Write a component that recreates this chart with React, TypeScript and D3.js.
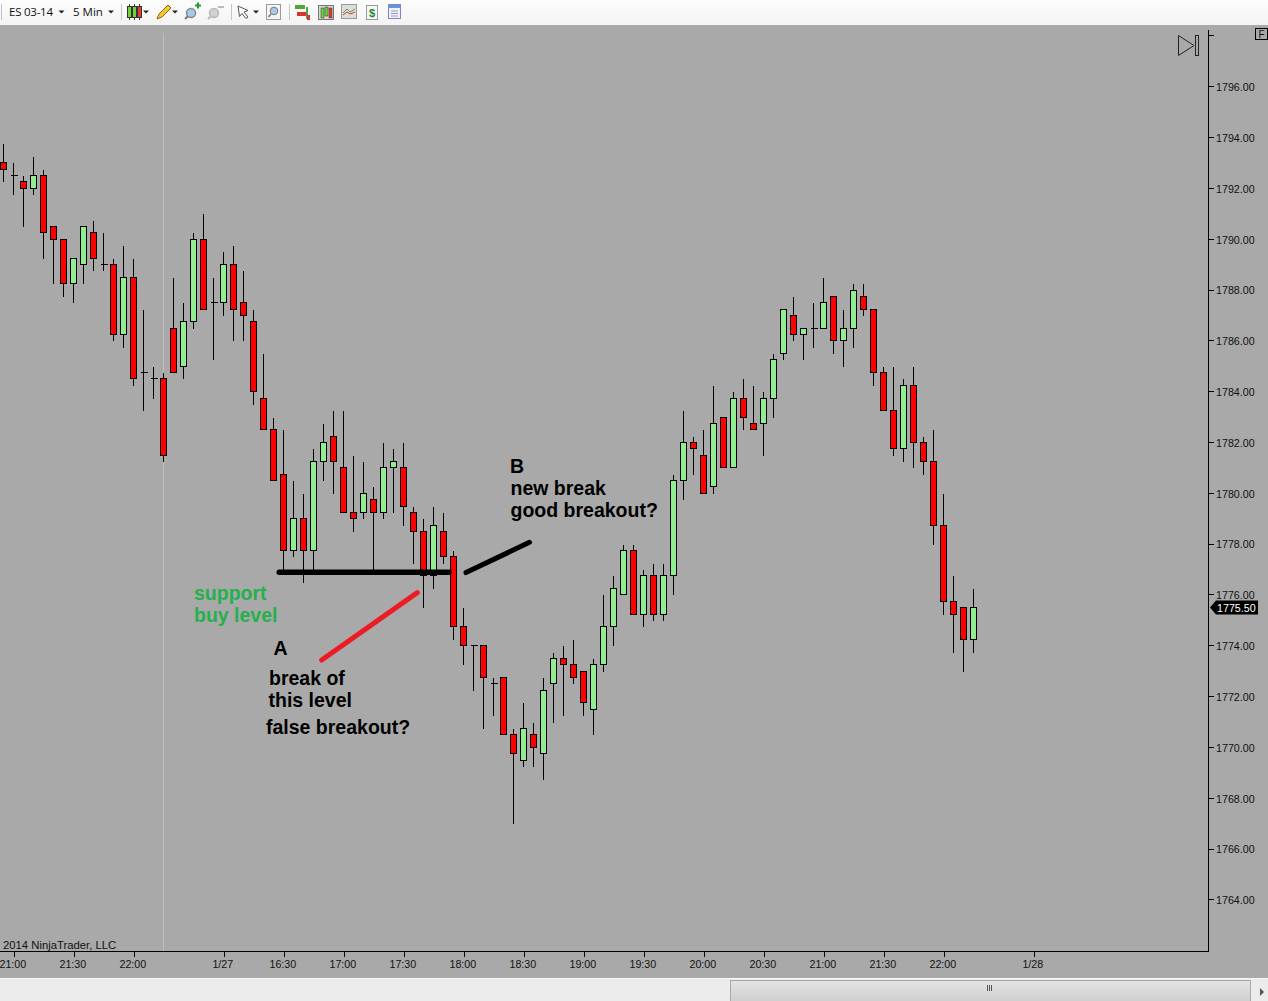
import { useEffect, useRef } from "react";
import * as d3 from "d3";

// ES 03-14, 5 min bars (tick size 0.25)
const opens = [
  1793, 1792.5, 1792.25, 1792, 1792.5, 1790.5, 1790, 1788.25, 1789, 1790.25,
  1789, 1789, 1786.25, 1788.5, 1784.75, 1784.5, 1784.5, 1786.5, 1785, 1786.75,
  1790, 1787.5, 1787.5, 1789, 1787.5, 1786.75, 1783.75, 1782.5, 1780.75, 1777.75,
  1779, 1777.75, 1781.25, 1782.25, 1781, 1779.25, 1779.25, 1779.75, 1779.25, 1781,
  1781, 1779.25, 1778.5, 1776.75, 1778.5, 1777.5, 1774.75, 1774, 1774, 1772.5,
  1772.75, 1770.5, 1769.5, 1770.5, 1769.75, 1772.5, 1773.5, 1773.25, 1773, 1771.5,
  1773.25, 1774.75, 1776, 1777.75, 1775.25, 1776.75, 1775.25, 1776.75, 1780.5, 1782,
  1781.5, 1780.25, 1783, 1781, 1783.75, 1782.75, 1782.75, 1783.75, 1785.5, 1787,
  1786.25, 1786.5, 1786.5, 1787.75, 1786, 1786.5, 1787.75, 1787.25, 1784.75, 1783.25,
  1781.75, 1784.25, 1782, 1781.25, 1778.75, 1775.75, 1775.5, 1774.25,
];
const highs = [
  1793.75, 1793, 1792.5, 1793.25, 1792.75, 1790.5, 1790, 1789.25, 1790.5, 1790.75,
  1790.25, 1789.25, 1789.75, 1789.25, 1787.25, 1785, 1784.75, 1788.5, 1787.5, 1790.25,
  1791, 1788.5, 1789.5, 1789.75, 1788.75, 1787.25, 1785.5, 1783, 1782.5, 1780.5,
  1780, 1781.75, 1782.75, 1783.25, 1783.25, 1781.5, 1781.25, 1780.25, 1782, 1781.75,
  1782, 1779.5, 1779, 1779.5, 1779.25, 1777.75, 1775.5, 1774, 1774, 1772.75,
  1772.75, 1770.75, 1771.75, 1771, 1772.75, 1773.75, 1774, 1774.25, 1773, 1773.5,
  1776, 1776.75, 1778, 1778, 1777, 1777.25, 1777.25, 1780.75, 1783.25, 1782.25,
  1782.5, 1784.25, 1783, 1784, 1784.5, 1784.25, 1784, 1785.5, 1787.25, 1787.75,
  1786.5, 1787.5, 1788.5, 1787.75, 1787.25, 1788.25, 1788.25, 1787.25, 1785, 1785,
  1784.5, 1785, 1782.25, 1782.5, 1780, 1776.75, 1775.5, 1776.25,
];
const lows = [
  1792.25, 1791.75, 1790.5, 1791.75, 1789.25, 1788.25, 1787.75, 1787.5, 1788.25, 1788.75,
  1788.75, 1786, 1785.75, 1784.25, 1783.25, 1783.75, 1781.25, 1784.75, 1784.5, 1786.5,
  1787.25, 1785.25, 1787, 1786, 1786, 1783.5, 1782.5, 1780.5, 1777, 1777.5,
  1776.5, 1777, 1780.5, 1780, 1779.25, 1778.5, 1779, 1777, 1779, 1779.25,
  1778.75, 1777.25, 1775.5, 1776.25, 1777.25, 1774.25, 1773.25, 1772.25, 1770.75, 1771.25,
  1770.5, 1767, 1769.25, 1769.25, 1768.75, 1771, 1771.25, 1772.5, 1771.25, 1770.5,
  1773, 1774, 1776, 1775.25, 1774.75, 1775, 1775, 1776, 1779.75, 1780.75,
  1780, 1780, 1781, 1781, 1782.5, 1782.5, 1781.5, 1783, 1785.25, 1786,
  1785.25, 1785.75, 1786.5, 1785.5, 1785, 1785.75, 1787, 1784.25, 1783.25, 1781.5,
  1781.25, 1781, 1780.75, 1778, 1775.25, 1773.75, 1773, 1773.75,
];
const closes = [
  1792.75, 1792.5, 1792, 1792.5, 1790.25, 1790, 1788.25, 1789.25, 1790.5, 1789.25,
  1789, 1786.25, 1788.5, 1784.5, 1784.75, 1784.5, 1781.5, 1784.75, 1786.75, 1790,
  1787.25, 1787.5, 1789, 1787.25, 1787, 1784, 1782.5, 1780.5, 1777.75, 1779,
  1777.75, 1781.25, 1782, 1781.25, 1779.25, 1779, 1780, 1779.25, 1781, 1781.25,
  1779.5, 1778.5, 1776.75, 1778.75, 1777.5, 1774.75, 1774, 1774, 1772.75, 1772.5,
  1770.5, 1769.75, 1770.75, 1770, 1772.25, 1773.5, 1773.25, 1772.75, 1771.75, 1773.25,
  1774.75, 1776.25, 1777.75, 1775.25, 1776.75, 1775.25, 1776.75, 1780.5, 1782, 1781.75,
  1780, 1782.75, 1781, 1783.75, 1783, 1782.5, 1783.75, 1785.25, 1787.25, 1786.25,
  1786.5, 1786.5, 1787.5, 1786, 1786.5, 1788, 1787.25, 1784.75, 1783.25, 1781.75,
  1784.25, 1782, 1781.25, 1778.75, 1775.75, 1775.25, 1774.25, 1775.5,
];

// bar index of each time label
const timeTickBars = [1, 7, 13, 22, 28, 34, 40, 46, 52, 58, 64, 70, 76, 82, 88, 94, 103];
const timeTickLabels = [
  "21:00", "21:30", "22:00", "1/27", "16:30", "17:00", "17:30", "18:00", "18:30",
  "19:00", "19:30", "20:00", "20:30", "21:00", "21:30", "22:00", "1/28",
];
const priceTicks = d3.range(1764, 1800, 2);
const lastPrice = 1775.5;
const sessionBreakBar = 16;

// hand drawn lines on the chart: [bar, price] pairs
const supportLine: [number, number][] = [[27.57, 1776.89], [44.55, 1776.89]];
const breakLineB: [number, number][] = [[46.25, 1776.88], [52.6, 1778.07]];
const breakLineA: [number, number][] = [[31.82, 1773.44], [41.38, 1776.09]];

const notes = [
  { text: "support", x: 194, y: 600, color: "#22B14C" },
  { text: "buy level", x: 194, y: 622, color: "#22B14C" },
  { text: "A", x: 273.5, y: 655, color: "#000" },
  { text: "break of", x: 269, y: 685, color: "#000" },
  { text: "this level", x: 268.5, y: 707, color: "#000" },
  { text: "false breakout?", x: 266, y: 734, color: "#000" },
  { text: "B", x: 510, y: 473, color: "#000" },
  { text: "new break", x: 510.5, y: 495, color: "#000" },
  { text: "good breakout?", x: 510.5, y: 517, color: "#000" },
];

const W = 1268;
const H = 1001;
const FONT = "'Liberation Sans', Arial, sans-serif";
const UP = "#90EE90";
const DOWN = "#FF0000";

function Arrow({ x }: { x: number }) {
  return <path d={`M${x},10.5 h6 l-3,3 z`} fill="#222" />;
}

function Toolbar() {
  return (
    <g>
      <defs>
        <linearGradient id="tb" x1="0" x2="0" y1="0" y2="1">
          <stop offset="0" stopColor="#fdfdfd" />
          <stop offset="1" stopColor="#f3f3f3" />
        </linearGradient>
        <linearGradient id="thumb" x1="0" x2="0" y1="0" y2="1">
          <stop offset="0" stopColor="#e4e4e4" />
          <stop offset="1" stopColor="#cfcfcf" />
        </linearGradient>
      </defs>
      <rect x={0} y={0} width={W} height={25} fill="url(#tb)" />
      {[1, 121, 231, 289].map((x) => (
        <line key={x} x1={x + 0.5} x2={x + 0.5} y1={4} y2={20} stroke="#c4c4c4" />
      ))}
      <g fontFamily="'Open Sans', sans-serif" fontSize={11.5} fill="#111">
        <text x={9} y={16} textLength={44}>ES 03-14</text>
        <text x={73} y={16}>5 Min</text>
      </g>
      <Arrow x={58.5} />
      <Arrow x={108} />
      {/* candles */}
      <g stroke="#333">
        <path d="M129.5,4 V20 M134.5,4 V20 M139.5,4 V20" />
        <rect x={127.5} y={6.5} width={4} height={11} fill="#6fd43c" />
        <rect x={132.5} y={6.5} width={4} height={11} fill="#6fd43c" />
        <rect x={137.5} y={6.5} width={4} height={11} fill="#e8392c" />
      </g>
      <Arrow x={143} />
      {/* pencil */}
      <path d="M157,19 l2,-5 l9,-9 l3,3 l-9,9 z" fill="#f5c92e" stroke="#8a6a10" />
      <Arrow x={172} />
      {/* zoom in / out */}
      <circle cx={191} cy={13} r={4.5} fill="#a8c8ee" stroke="#8a8a8a" strokeWidth={1.5} />
      <line x1={187.5} y1={16.5} x2={185} y2={19} stroke="#777" strokeWidth={2} />
      <path d="M195,5.5 h6 M198,2.5 v6" stroke="#18a030" strokeWidth={2} />
      <circle cx={214} cy={13} r={4.5} fill="#d2d2d2" stroke="#b8b8b8" strokeWidth={1.5} />
      <line x1={210.5} y1={16.5} x2={208} y2={19} stroke="#bbb" strokeWidth={2} />
      <path d="M218,7 h6" stroke="#bbb" strokeWidth={2} />
      {/* cursor */}
      <path d="M238,6 l10,4.5 l-4,1.5 l4,5 l-2,1.5 l-4,-5 l-2.5,3 z" fill="#fff" stroke="#555" />
      <Arrow x={253} />
      <rect x={266.5} y={4.5} width={14} height={15} fill="#f4f4f4" stroke="#999" />
      <circle cx={274} cy={11} r={3.8} fill="#a8c8ee" stroke="#7a7a7a" />
      <line x1={271} y1={14} x2={268.5} y2={17} stroke="#777" strokeWidth={1.5} />
      {/* chart buttons */}
      <rect x={295} y={5} width={10} height={4} fill="#4fa83c" />
      <rect x={297} y={12} width={10} height={4} fill="#d8352c" />
      <rect x={306} y={7} width={2} height={12} fill="#5aa04a" />
      <rect x={307} y={15} width={3} height={5} fill="#d8352c" />
      <rect x={318.5} y={5.5} width={15} height={14} fill="#d8d8d8" stroke="#777" />
      <rect x={321} y={8} width={3} height={10} fill="#6fd43c" stroke="#333" strokeWidth={0.5} />
      <rect x={325} y={7} width={3} height={9} fill="#6fd43c" stroke="#333" strokeWidth={0.5} />
      <rect x={329} y={8} width={3} height={10} fill="#e8392c" stroke="#333" strokeWidth={0.5} />
      <rect x={341.5} y={4.5} width={15} height={14} fill="#dcdcdc" stroke="#999" />
      <path d="M343,13 l4,-4 l3,3 l5,-3" fill="none" stroke="#4fa83c" />
      <path d="M343,15 l4,-3 l3,2 l5,-2" fill="none" stroke="#d8352c" />
      <rect x={366.5} y={5.5} width={11} height={14} fill="#f6f6f6" stroke="#999" />
      <text x={372} y={17} textAnchor="middle" fontFamily={FONT} fontWeight={700} fontSize={11} fill="#1c8a30">$</text>
      <rect x={388.5} y={4.5} width={12} height={14} fill="#eef0fa" stroke="#8a80c8" />
      <rect x={389} y={5} width={11} height={3} fill="#5a9ad8" />
      <path d="M391,11 h7 M391,13.5 h7 M391,16 h7" stroke="#9a9ac0" />
    </g>
  );
}

function ScrollBar() {
  return (
    <g>
      <rect x={0} y={978} width={W} height={1} fill="#f8f8f8" />
      <rect x={0} y={979} width={W} height={22} fill="#ececec" />
      <rect x={730.5} y={980.5} width={520} height={21} fill="url(#thumb)" stroke="#a8a8a8" />
      <path d="M987.5,985 v6 M989.5,985 v6 M991.5,985 v6" stroke="#555" />
      <path d="M1260,988 l4,4 l-4,4 z" fill="#555" />
    </g>
  );
}

export default function App() {
  const svgRef = useRef<SVGSVGElement | null>(null);

  useEffect(() => {
    if (!svgRef.current) return;
    const svg = d3.select(svgRef.current).select<SVGGElement>("g.chart");
    svg.selectAll("*").remove();

    const plotRight = 1208;
    const plotBottom = 951;

    const x = d3.scaleLinear().domain([0, 97]).range([3.5, 973.5]);
    const y = d3.scaleLinear().domain([1764, 1796]).range([899.9, 86.7]);
    const py = (p: number) => Math.floor(y(p)) + 0.5;
    // d3's axis adds its own half pixel
    const yAxisScale = y.copy().range([899.4, 86.2]);

    // session break
    svg
      .append("line")
      .attr("x1", x(sessionBreakBar))
      .attr("x2", x(sessionBreakBar))
      .attr("y1", 33)
      .attr("y2", plotBottom)
      .attr("stroke", "#BEBEBE");

    // bars
    const bars = svg
      .append("g")
      .selectAll("g")
      .data(opens.map((o, i) => ({ i, o, h: highs[i], l: lows[i], c: closes[i] })))
      .join("g")
      .attr("stroke", "#000")
      .attr("shape-rendering", "crispEdges");

    bars
      .append("line")
      .attr("x1", (d) => x(d.i))
      .attr("x2", (d) => x(d.i))
      .attr("y1", (d) => py(d.h))
      .attr("y2", (d) => py(d.l));

    bars
      .filter((d) => d.o === d.c)
      .append("line")
      .attr("x1", (d) => x(d.i) - 3)
      .attr("x2", (d) => x(d.i) + 4)
      .attr("y1", (d) => py(d.o))
      .attr("y2", (d) => py(d.o));

    bars
      .filter((d) => d.o !== d.c)
      .append("rect")
      .attr("x", (d) => x(d.i) - 3)
      .attr("width", 6)
      .attr("y", (d) => py(Math.max(d.o, d.c)))
      .attr("height", (d) => py(Math.min(d.o, d.c)) - py(Math.max(d.o, d.c)))
      .attr("fill", (d) => (d.c > d.o ? UP : DOWN));

    // price axis
    const right = svg
      .append("g")
      .attr("transform", `translate(${plotRight},0)`)
      .call(
        d3
          .axisRight(yAxisScale)
          .tickValues(priceTicks)
          .tickSizeOuter(0)
          .tickSize(6)
          .tickPadding(2)
          .tickFormat((d) => (+d > 1796 ? "" : (+d).toFixed(2)))
      );
    right.select(".domain").remove();
    right.selectAll("line").attr("shape-rendering", "crispEdges");
    right
      .selectAll("text")
      .attr("font-family", FONT)
      .attr("font-size", 10.7)
      .attr("fill", "#111")
      .attr("transform", "translate(0,0.9)");
    svg
      .append("line")
      .attr("x1", plotRight + 0.5)
      .attr("x2", plotRight + 0.5)
      .attr("y1", 30)
      .attr("y2", plotBottom + 1)
      .attr("stroke", "#000");

    // time axis
    const bottom = svg
      .append("g")
      .attr("transform", `translate(0,${plotBottom})`)
      .call(
        d3
          .axisBottom(x)
          .tickValues(timeTickBars)
          .tickSize(6)
          .tickPadding(3)
          .tickFormat((_, i) => timeTickLabels[i])
      );
    bottom.select(".domain").remove();
    bottom.selectAll("line").attr("shape-rendering", "crispEdges");
    bottom
      .selectAll("text")
      .attr("font-family", FONT)
      .attr("font-size", 10.7)
      .attr("fill", "#111")
      .attr("x", -1.2);
    svg
      .append("line")
      .attr("x1", 0)
      .attr("x2", plotRight)
      .attr("y1", plotBottom + 0.5)
      .attr("y2", plotBottom + 0.5)
      .attr("stroke", "#000");

    // last price tag
    const tagY = py(lastPrice);
    svg
      .append("path")
      .attr("d", `M1210,${tagY} l6,-7 h42 v14 h-42 z`)
      .attr("fill", "#000");
    svg
      .append("text")
      .attr("x", 1217)
      .attr("y", tagY + 4)
      .attr("font-family", FONT)
      .attr("font-size", 10.7)
      .attr("fill", "#fff")
      .text(lastPrice.toFixed(2));

    // hand drawn lines
    const line = d3
      .line<[number, number]>()
      .x((d) => x(d[0]))
      .y((d) => y(d[1]));
    const strokes: [[number, number][], string, number][] = [
      [supportLine, "#000", 5.5],
      [breakLineB, "#000", 5],
      [breakLineA, "#ED1C24", 5],
    ];
    svg
      .append("g")
      .selectAll("path")
      .data(strokes)
      .join("path")
      .attr("d", (d) => line(d[0]))
      .attr("fill", "none")
      .attr("stroke", (d) => d[1])
      .attr("stroke-width", (d) => d[2])
      .attr("stroke-linecap", "round");

    // notes
    svg
      .append("g")
      .selectAll("text")
      .data(notes)
      .join("text")
      .attr("x", (d) => d.x)
      .attr("y", (d) => d.y)
      .attr("fill", (d) => d.color)
      .attr("font-family", FONT)
      .attr("font-weight", 700)
      .attr("font-size", 19.5)
      .text((d) => d.text);
  }, []);

  return (
    <svg
      ref={svgRef}
      width={W}
      height={H}
      style={{ position: "absolute", left: 0, top: 0, display: "block" }}
    >
      <rect x={0} y={25} width={W} height={954} fill="#A9A9A9" />
      <g className="chart" />
      <text x={-8.5} y={949} fontFamily={FONT} fontSize={11.3} fill="#111">© 2014 NinjaTrader, LLC</text>
      {/* go to end button */}
      <path d="M1178.5,35.5 V55.5 L1194,45.5 Z" fill="none" stroke="#222" />
      <rect x={1195.5} y={35.5} width={3} height={20} fill="none" stroke="#222" />
      {/* F box */}
      <rect x={1255.5} y={28.5} width={12} height={11} fill="none" stroke="#000" />
      <text x={1261.5} y={37.5} textAnchor="middle" fontFamily={FONT} fontSize={10} fill="#111">F</text>
      <Toolbar />
      <ScrollBar />
    </svg>
  );
}
